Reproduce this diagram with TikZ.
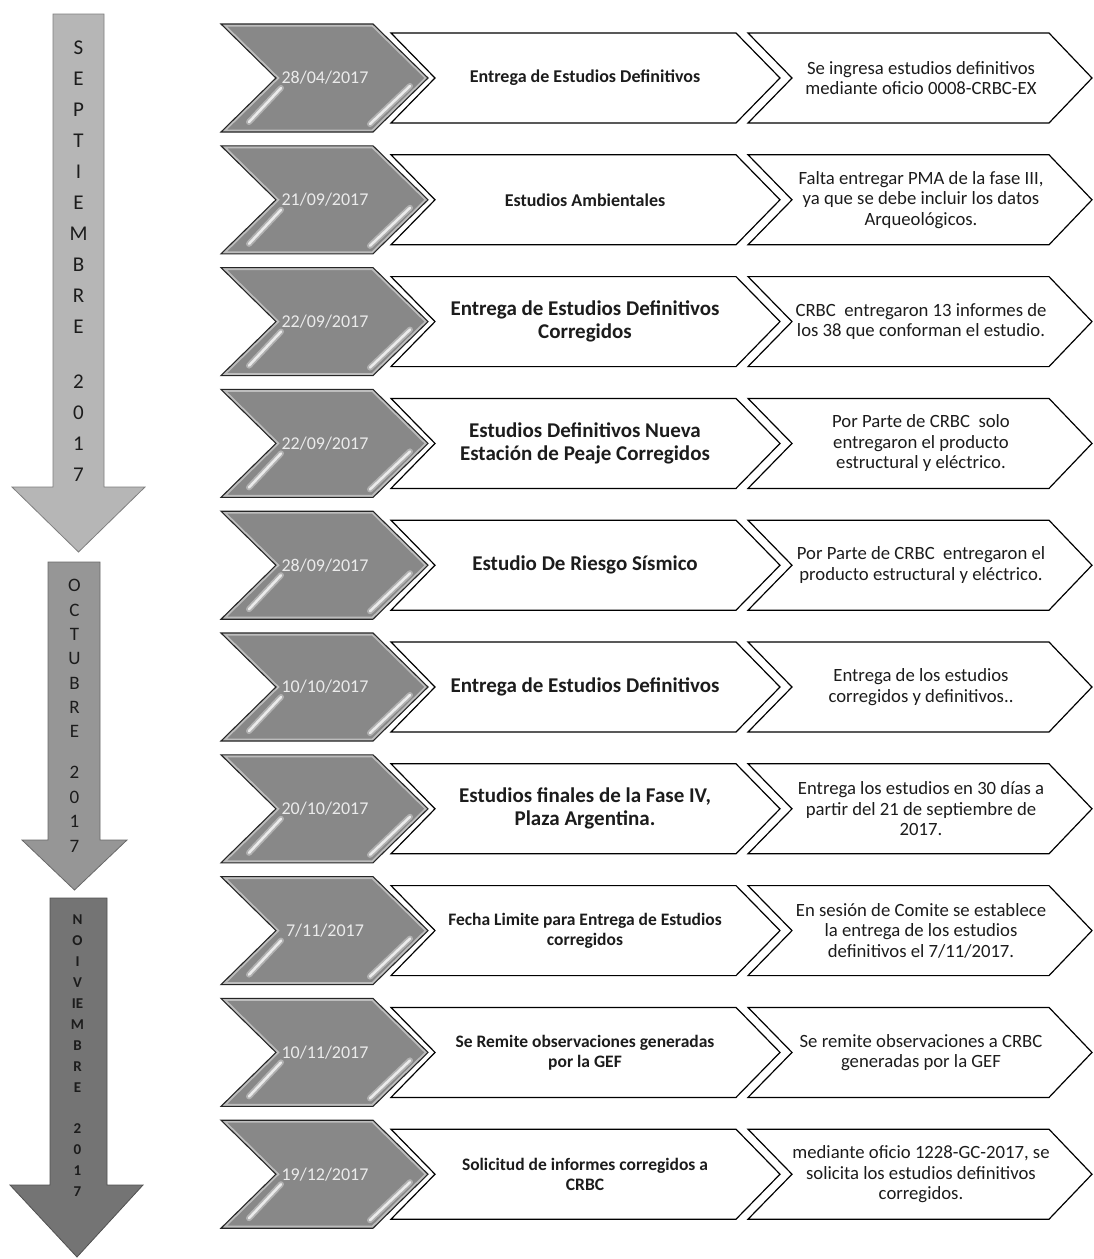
\documentclass[tikz,border=0pt]{standalone}
\usepackage{fontspec}
\setmainfont{Carlito}
\definecolor{datefill}{RGB}{136,136,136}
\definecolor{sepfill}{RGB}{182,182,182}
\definecolor{octfill}{RGB}{150,150,150}
\definecolor{novfill}{RGB}{116,116,116}
\definecolor{ink}{RGB}{28,28,28}
\tikzset{
  chevbox/.style={draw=black, line width=1.2pt, fill=white},
  dateline/.style={draw=black!85, line width=1.1pt},
  datetext/.style={text=white!92!black, font=\fontsize{18}{20}\selectfont, inner sep=0pt},
  midtext/.style={text=ink, align=center, inner sep=0pt},
  restext/.style={text=ink, align=center, inner sep=0pt, font=\fontsize{18.7}{20.5}\selectfont},
  sepletter/.style={text=ink, inner sep=0pt, font=\fontsize{21}{21}\selectfont, text height=13.5pt, text depth=0pt},
  octletter/.style={text=ink, inner sep=0pt, font=\fontsize{19}{19}\selectfont, text height=12.2pt, text depth=0pt},
  novletter/.style={text=ink, inner sep=0pt, font=\bfseries\fontsize{15}{15}\selectfont, text height=9.7pt, text depth=0pt},
  monthsep/.style={fill=sepfill, draw=sepfill!70!black, line width=0.8pt},
  monthoct/.style={fill=octfill, draw=octfill!70!black, line width=0.8pt},
  monthnov/.style={fill=novfill, draw=novfill!70!black, line width=0.8pt},
}
\newcommand\tlrow[6]{%
  \pgfmathsetmacro\cy{78+121.8*#1}%
  \begin{scope}
    \clip (221,\cy-54) -- (373,\cy-54) -- (428,\cy) -- (373,\cy+54) -- (221,\cy+54) -- (276,\cy) -- cycle;
    \fill[datefill] (200,\cy-60) rectangle (440,\cy+60);
    \draw[white, opacity=.45, line width=5pt] (221,\cy-54) -- (373,\cy-54) -- (428,\cy) -- (373,\cy+54) -- (221,\cy+54) -- (276,\cy) -- cycle;
    \draw[white, opacity=.35, line width=6pt, line cap=round] (281,\cy+10) -- (249,\cy+44);
    \draw[white, opacity=.75, line width=2.5pt, line cap=round] (281,\cy+10) -- (249,\cy+44);
    \draw[white, opacity=.35, line width=6pt, line cap=round] (410,\cy+8) -- (370,\cy+46);
    \draw[white, opacity=.75, line width=2.5pt, line cap=round] (410,\cy+8) -- (370,\cy+46);
  \end{scope}
  \draw[dateline] (221,\cy-54) -- (373,\cy-54) -- (428,\cy) -- (373,\cy+54) -- (221,\cy+54) -- (276,\cy) -- cycle;
  \draw[chevbox] (391,\cy-45) -- (736,\cy-45) -- (780,\cy) -- (736,\cy+45) -- (391,\cy+45) -- (435,\cy) -- cycle;
  \draw[chevbox] (748,\cy-45) -- (1049,\cy-45) -- (1092,\cy) -- (1049,\cy+45) -- (748,\cy+45) -- (792,\cy) -- cycle;
  \node[datetext] (date#1) at (325,\cy) {#2};
  \node[midtext, font=\bfseries#4] (mid#1) at (585,\cy) {#3};
  \node[restext] (res#1) at (921,\cy) {#5};
}
\begin{document}
\begin{tikzpicture}[x=1pt,y=-1pt]
\useasboundingbox (0,0) rectangle (1093,1259);
\fill[white] (0,0) rectangle (1093,1259);

% month arrows
\draw[monthsep] (53,14) -- (104,14) -- (104,487) -- (145,487) -- (78.5,552) -- (12,487) -- (53,487) -- cycle;
\draw[monthoct] (48,562) -- (100,562) -- (100,840) -- (127,840) -- (74.5,890) -- (22,840) -- (48,840) -- cycle;
\draw[monthnov] (50,898) -- (107,898) -- (107,1185) -- (143,1185) -- (77,1257) -- (10,1185) -- (50,1185) -- cycle;

\foreach \l/\yy [count=\k] in {S/48,E/79,P/110,T/141,I/172,E/203,M/234,B/265,R/296,E/327,2/382,0/413,1/444,7/475}
  \node[sepletter] (sep\k) at (78.5,\yy) {\l};
\foreach \l/\yy [count=\k] in {O/585,C/610,T/634,U/658,B/683,R/707,E/731,2/772,0/797,1/821,7/846}
  \node[octletter] (oct\k) at (74.5,\yy) {\l};
\foreach \l/\yy [count=\k] in {N/920,O/941,I/962,V/983,IE/1004,M/1025,B/1046,R/1067,E/1088,2/1129,0/1150,1/1171,7/1192}
  \node[novletter] (nov\k) at (77.5,\yy) {\l};

\tlrow{0}{28/04/2017}{Entrega de Estudios Definitivos}{\fontsize{18}{21}\selectfont}{Se ingresa estudios definitivos\\mediante oficio 0008-CRBC-EX}{}
\tlrow{1}{21/09/2017}{Estudios Ambientales}{\fontsize{18}{21}\selectfont}{Falta entregar PMA de la fase III,\\ya que se debe incluir los datos\\Arqueológicos.}{}
\tlrow{2}{22/09/2017}{Entrega de Estudios Definitivos\\Corregidos}{\fontsize{21}{23}\selectfont}{CRBC\ \ entregaron 13 informes de\\los 38 que conforman el estudio.}{}
\tlrow{3}{22/09/2017}{Estudios Definitivos Nueva\\Estación de Peaje Corregidos}{\fontsize{21}{23}\selectfont}{Por Parte de CRBC\ \ solo\\entregaron el producto\\estructural y eléctrico.}{}
\tlrow{4}{28/09/2017}{Estudio De Riesgo Sísmico}{\fontsize{21}{23}\selectfont}{Por Parte de CRBC\ \ entregaron el\\producto estructural y eléctrico.}{}
\tlrow{5}{10/10/2017}{Entrega de Estudios Definitivos}{\fontsize{21}{23}\selectfont}{Entrega de los estudios\\corregidos y definitivos..}{}
\tlrow{6}{20/10/2017}{Estudios finales de la Fase IV,\\Plaza Argentina.}{\fontsize{21}{23}\selectfont}{Entrega los estudios en 30 días a\\partir del 21 de septiembre de\\2017.}{}
\tlrow{7}{7/11/2017}{Fecha Limite para Entrega de Estudios\\corregidos}{\fontsize{17.5}{20}\selectfont}{En sesión de Comite se establece\\la entrega de los estudios\\definitivos el 7/11/2017.}{}
\tlrow{8}{10/11/2017}{Se Remite observaciones generadas\\por la GEF}{\fontsize{17.5}{20}\selectfont}{Se remite observaciones a CRBC\\generadas por la GEF}{}
\tlrow{9}{19/12/2017}{Solicitud de informes corregidos a\\CRBC}{\fontsize{17.5}{20}\selectfont}{mediante oficio 1228-GC-2017, se\\solicita los estudios definitivos\\corregidos.}{}
\end{tikzpicture}
\end{document}
